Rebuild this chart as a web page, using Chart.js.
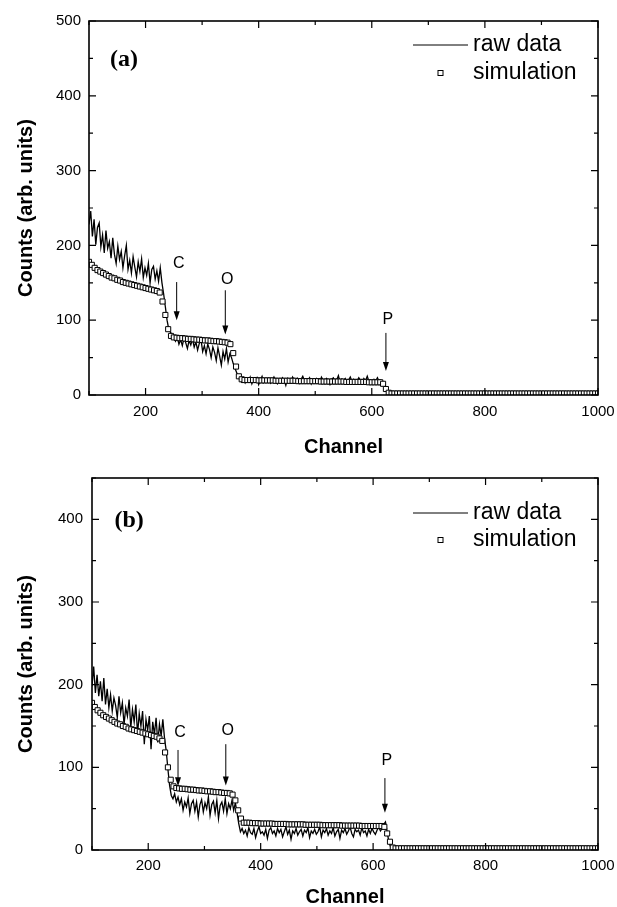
<!DOCTYPE html>
<html lang="en">
<head>
<meta charset="UTF-8" />
<title>Spectra (a) and (b)</title>
<script src="https://cdn.jsdelivr.net/npm/chart.js"></script>
<style>
  body { margin: 0; background: #fff; }
  canvas { display: block; }
</style>
</head>
<body>
<canvas id="chartA" width="617" height="460"></canvas>
<canvas id="chartB" width="617" height="447"></canvas>
<script>
// raw spectra: every 3rd channel up to 640, then every 5th
const rawChannels = [];
for (let c = 100; c <= 640; c += 3) rawChannels.push(c);
for (let c = 645; c <= 1000; c += 5) rawChannels.push(c);
// simulation: every 5th channel
const simChannels = [];
for (let c = 100; c <= 1000; c += 5) simChannels.push(c);

const xTicks = [200, 400, 600, 800, 1000];
const xMinorTicks = [100, 300, 500, 700, 900];
const yTicksA = [0, 100, 200, 300, 400, 500];
const yTicksB = [0, 100, 200, 300, 400];
const yMinorTicks = [50, 150, 250, 350, 450];

// panel (a)
const rawA = [
  228,246,212,235,201,224,230,198,214,190, 220,196,205,183,210,188,176,199,181,192,
  170,186,200,168,180,163,185,171,158,178, 165,182,157,170,160,176,150,168,172,155,
  166,152,170,150,
  135,118,100,88,84,80,76,
  72,78,68,74,66,76,70,62,73,67, 75,64,71,60,69,74,58,66,55,68,
  61,50,64,57,46,63,52,40,58,48, 62,44,55,50,42,36,30,24,20,17,
  20,16,22,18,24,15,21,19,23,14, 20,25,17,21,18,22,16,20,24,19, 15,21,18,23,20,13,22,19,17,24,
  20,18,22,16,21,25,19,17,20,23, 15,21,18,22,19,16,24,20,17,22, 19,14,21,23,18,20,26,17,21,19,
  22,16,20,24,18,21,15,19,23,20, 17,22,19,25,18,20,16,21,19,23, 18,20,17,
  17,10,5,3,2,3,2,
  2,3,2,2,3,2,1,2,3,2, 2,2,3,2,2,1,2,3,2,2, 3,2,2,2,1,2,3,2,2,2, 2,3,2,2,2,1,2,2,3,2,
  2,2,2,3,2,2,1,2,2,3, 2,2,2,2,3,2,2,1,2,2, 3,2,2,2,2,3,2,2,2,1, 2,2
];
const simA = [
  178,174,170,167,165,163,161,159,157,156,154,153,151,150,149,148,147,146,145,144,143,142,141,140,139,137,
  125,107,88,79,77,
  76.5,76,76,75.5,75,75,74.5,74,74,73.5,73,73,72.5,72,72,71.5,71,70.5,70,68,56,38,25,21,
  20,20,20,20,20,19.5,19.5,19.5,19.5,19.5,19.5,19,19,19,19,19,19,19,19,18.5,18.5,18.5,18.5,18.5,18.5,
  18.5,18.5,18,18,18,18,18,18,18,18,18,17.5,17.5,17.5,17.5,17.5,17.5,17.5,17.5,17,17,17,17,17,
  15,8,3,2,
  2,2,2,2,2,2,2,2,2,2, 2,2,2,2,2,2,2,2,2,2, 2,2,2,2,2,2,2,2,2,2, 2,2,2,2,2,2,2,2,2,2,
  2,2,2,2,2,2,2,2,2,2, 2,2,2,2,2,2,2,2,2,2, 2,2,2,2,2,2,2,2,2,2, 2,2,2
];

// panel (b)
const rawB = [
  198,222,190,212,186,204,180,208,176,195, 172,188,168,184,175,160,186,166,178,152,
  172,162,182,148,170,155,176,140,165,150, 168,128,158,145,162,122,155,140,160,130,
  152,138,158,135,
  120,98,78,66,62,68,58,
  64,55,62,48,58,52,63,44,56,60, 47,58,40,55,61,46,57,50,64,42,
  55,59,45,60,38,54,58,47,62,44, 56,50,60,48,57,45,32,22,26,20,
  24,17,27,21,19,26,15,23,28,20, 22,18,25,14,24,27,20,23,17,26, 21,25,16,22,28,19,24,13,23,20,
  26,18,22,25,17,24,21,27,15,23, 20,25,19,22,28,16,24,21,26,18, 23,20,27,17,22,25,14,24,21,26,
  19,23,28,20,16,25,22,24,18,27, 21,23,17,25,20,26,22,19,24,28, 23,26,31,
  34,22,10,4,2,3,2,
  2,2,3,2,1,2,2,3,2,2, 2,3,2,2,2,2,1,2,3,2, 2,2,2,3,2,2,2,1,2,2, 3,2,2,2,2,2,3,2,2,1,
  2,2,3,2,2,2,2,2,3,2, 2,1,2,2,3,2,2,2,2,2, 2,2,3,2,2,1,2,2,2,3, 2,2
];
const simB = [
  178,173,169,166,163,161,159,157,155,153,152,150,149,147,146,145,144,143,142,141,140,139,138,137,135,132,
  118,100,85,77,75,
  74.5,74,74,73.5,73,73,72.5,72,72,71.5,71,71,70.5,70,70,69.5,69,69,68.5,67,60,48,38,33,
  33,33,32.5,32.5,32.5,32,32,32,32,32,31.5,31.5,31.5,31.5,31.5,31,31,31,31,31,31,30.5,30.5,30.5,30.5,
  30.5,30.5,30,30,30,30,30,30,30,29.5,29.5,29.5,29.5,29.5,29.5,29.5,29,29,29,29,29,29,29,29,
  28,20,10,3,
  2,2,2,2,2,2,2,2,2,2, 2,2,2,2,2,2,2,2,2,2, 2,2,2,2,2,2,2,2,2,2, 2,2,2,2,2,2,2,2,2,2,
  2,2,2,2,2,2,2,2,2,2, 2,2,2,2,2,2,2,2,2,2, 2,2,2,2,2,2,2,2,2,2, 2,2,2
];

// element markers: label, channel, label height, arrow start, arrow tip
const markLabels = ['C', 'O', 'P'];
const markChA = [255, 341, 625];
const markTextA = [176, 154, 101];
const markFromA = [151, 140, 83];
const markToA = [100, 81, 32];
const markChB = [253, 338, 621];
const markTextB = [142, 144, 108];
const markFromB = [121, 128, 87];
const markToB = [77, 78, 45];

Chart.defaults.font.family = '"Liberation Sans", Arial, sans-serif';
Chart.defaults.color = '#000';

const decor = {
  id: 'decor',
  afterDatasetsDraw(chart, args, o) {
    const { ctx, chartArea: a, scales: { x, y } } = chart;
    ctx.save();
    ctx.strokeStyle = '#000';
    ctx.fillStyle = '#000';

    // frame + inward ticks on all four sides
    ctx.lineWidth = 1.6;
    ctx.strokeRect(a.left, a.top, a.right - a.left, a.bottom - a.top);
    ctx.lineWidth = 1.2;
    ctx.beginPath();
    const xt = (v, len) => {
      const px = x.getPixelForValue(v);
      ctx.moveTo(px, a.bottom); ctx.lineTo(px, a.bottom - len);
      ctx.moveTo(px, a.top); ctx.lineTo(px, a.top + len);
    };
    const yt = (v, len) => {
      if (v > y.max) return;
      const py = y.getPixelForValue(v);
      ctx.moveTo(a.left, py); ctx.lineTo(a.left + len, py);
      ctx.moveTo(a.right, py); ctx.lineTo(a.right - len, py);
    };
    xTicks.forEach(v => xt(v, 7));
    xMinorTicks.forEach(v => xt(v, 4));
    o.yTicks.forEach(v => yt(v, 7));
    yMinorTicks.forEach(v => yt(v, 4));
    ctx.stroke();

    // C / O / P arrows
    ctx.lineWidth = 1;
    ctx.font = '16px "Liberation Sans", Arial, sans-serif';
    ctx.textAlign = 'center';
    ctx.textBaseline = 'middle';
    markLabels.forEach((t, i) => {
      const px = x.getPixelForValue(o.ch[i]);
      const y1 = y.getPixelForValue(o.from[i]);
      const y2 = y.getPixelForValue(o.to[i]);
      ctx.fillText(t, px + 2, y.getPixelForValue(o.text[i]));
      ctx.beginPath();
      ctx.moveTo(px, y1); ctx.lineTo(px, y2 - 6);
      ctx.stroke();
      ctx.beginPath();
      ctx.moveTo(px - 3, y2 - 9); ctx.lineTo(px + 3, y2 - 9); ctx.lineTo(px, y2);
      ctx.closePath();
      ctx.fill();
    });

    // panel tag
    ctx.font = 'bold 24px "Liberation Serif", "Times New Roman", serif';
    ctx.fillText(o.tag, x.getPixelForValue(o.tagAt[0]), y.getPixelForValue(o.tagAt[1]));

    // legend
    const ly1 = a.top + o.legendY[0], ly2 = a.top + o.legendY[1];
    ctx.beginPath();
    ctx.moveTo(a.right - 185, ly1); ctx.lineTo(a.right - 130, ly1);
    ctx.stroke();
    ctx.fillStyle = '#fff';
    ctx.fillRect(a.right - 160, ly2 - 2.5, 5, 5);
    ctx.strokeRect(a.right - 160, ly2 - 2.5, 5, 5);
    ctx.fillStyle = '#000';
    ctx.font = '23px "Liberation Sans", Arial, sans-serif';
    ctx.textAlign = 'left';
    ctx.fillText('raw data', a.right - 125, ly1);
    ctx.fillText('simulation', a.right - 125, ly2);
    ctx.restore();
  }
};

function makePanel(id, raw, sim, p) {
  new Chart(document.getElementById(id), {
    type: 'line',
    data: {
      datasets: [
        {
          label: 'simulation',
          data: simChannels.map((c, i) => ({ x: c, y: sim[i] })),
          showLine: false,
          pointStyle: 'rect',
          pointRadius: 3.6,
          pointBorderWidth: 1,
          pointBorderColor: '#000',
          pointBackgroundColor: '#fff',
          order: 0
        },
        {
          label: 'raw data',
          data: rawChannels.map((c, i) => ({ x: c, y: raw[i] })),
          borderColor: '#000',
          borderWidth: 1.3,
          pointRadius: 0,
          tension: 0,
          order: 1
        }
      ]
    },
    options: {
      responsive: false,
      animation: false,
      layout: { padding: { top: p.top, right: 19, left: 0, bottom: 0 } },
      plugins: {
        legend: { display: false },
        tooltip: { enabled: false },
        decor: p.decor
      },
      scales: {
        x: {
          type: 'linear',
          min: 100,
          max: 1000,
          grid: { display: false, drawTicks: false, tickLength: 0 },
          border: { display: false },
          afterBuildTicks: s => { s.ticks = xTicks.map(v => ({ value: v })); },
          afterFit: s => { s.height = p.xHeight; s.paddingLeft = 0; s.paddingRight = 0; },
          ticks: { font: { size: 15 }, padding: p.xPad, maxRotation: 0, callback: v => String(v) },
          title: {
            display: true,
            text: 'Channel',
            font: { size: 20, weight: 'bold', lineHeight: 1 },
            padding: { top: 0, bottom: p.xTitlePad }
          }
        },
        y: {
          type: 'linear',
          min: 0,
          max: p.yMax,
          grid: { display: false, drawTicks: false, tickLength: 0 },
          border: { display: false },
          afterBuildTicks: s => { s.ticks = p.decor.yTicks.map(v => ({ value: v })); },
          afterFit: s => { s.width = p.yWidth; },
          ticks: { font: { size: 15 }, padding: p.yPad, callback: v => String(v) },
          title: {
            display: true,
            text: 'Counts (arb. units)',
            font: { size: 20, weight: 'bold', lineHeight: 1 },
            padding: { top: 16, bottom: 0 }
          }
        }
      }
    },
    plugins: [decor]
  });
}

makePanel('chartA', rawA, simA, {
  top: 21, xHeight: 65, yWidth: 89, yMax: 500, xPad: 8, yPad: 8, xTitlePad: 3,
  decor: {
    yTicks: yTicksA, ch: markChA, text: markTextA, from: markFromA, to: markToA,
    tag: '(a)', tagAt: [162, 448], legendY: [24, 52]
  }
});

makePanel('chartB', rawB, simB, {
  top: 16, xHeight: 57, yWidth: 92, yMax: 450, xPad: 7, yPad: 9, xTitlePad: 0,
  decor: {
    yTicks: yTicksB, ch: markChB, text: markTextB, from: markFromB, to: markToB,
    tag: '(b)', tagAt: [166, 398], legendY: [35, 62]
  }
});
</script>
</body>
</html>
